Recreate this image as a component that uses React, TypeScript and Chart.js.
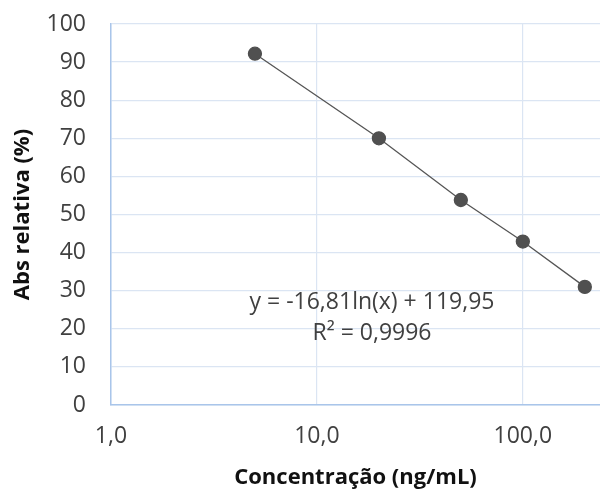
import React, { useEffect, useRef } from "react";
import { Chart, registerables } from "chart.js";

Chart.register(...registerables);

const concentrations = [5, 20, 50, 100, 200];
const absRelativa = [92.2, 70.0, 53.8, 42.9, 31.0];
const xTickValues = [1, 10, 100];
const equationLines = ["y = -16,81ln(x) + 119,95", "R² = 0,9996"];
const xTitle = "Concentração (ng/mL)";
const yTitle = "Abs relativa (%)";

const FONT = "'Open Sans', 'Liberation Sans', sans-serif";

const equationPlugin = {
  id: "equationLabel",
  afterDatasetsDraw(chart: any) {
    const { ctx, chartArea } = chart;
    ctx.save();
    ctx.font = `23px ${FONT}`;
    ctx.fillStyle = "#404040";
    ctx.textAlign = "center";
    ctx.textBaseline = "middle";
    const cx = chartArea.left + 261;
    const cy = chartArea.top + 278;
    ctx.fillText(equationLines[0], cx, cy);
    ctx.fillText(equationLines[1], cx, cy + 31);
    ctx.restore();
  },
};

export default function App() {
  const canvasRef = useRef<HTMLCanvasElement | null>(null);

  useEffect(() => {
    if (!canvasRef.current) return;
    const chart = new Chart(canvasRef.current, {
      type: "scatter",
      data: {
        datasets: [
          {
            data: concentrations.map((x, i) => ({ x, y: absRelativa[i] })),
            showLine: true,
            borderColor: "#555555",
            borderWidth: 1.3,
            backgroundColor: "#505050",
            pointBackgroundColor: "#505050",
            pointBorderColor: "#505050",
            pointRadius: 6.5,
            pointHoverRadius: 6.5,
          },
        ],
      },
      options: {
        responsive: false,
        animation: false,
        devicePixelRatio: 1,
        layout: { autoPadding: false, padding: { left: 0, right: 0, top: 24, bottom: 0 } },
        plugins: {
          legend: { display: false },
          tooltip: { enabled: false },
        },
        scales: {
          x: {
            type: "logarithmic",
            min: 1,
            max: 237,
            afterBuildTicks: (scale: any) => {
              scale.ticks = xTickValues.map((v) => ({ value: v }));
            },
            afterFit: (scale: any) => {
              scale.height = 85;
              scale.paddingLeft = 0;
              scale.paddingRight = 0;
            },
            ticks: {
              autoSkip: false,
              maxRotation: 0,
              padding: 18,
              color: "#404040",
              font: { family: FONT, size: 23 },
              callback: (v: any) => Number(v).toFixed(1).replace(".", ","),
            },
            grid: { color: "#dbe5f3", lineWidth: 1.2, drawTicks: false },
            border: { color: "#a9c5ea", width: 1.5 },
            title: {
              display: true,
              text: xTitle,
              color: "#111111",
              font: { family: FONT, size: 22, weight: "bold", lineHeight: 1 },
              padding: { top: 0, bottom: 1 },
            },
          },
          y: {
            min: 0,
            max: 100,
            afterFit: (scale: any) => {
              scale.width = 111;
              scale.paddingTop = 0;
              scale.paddingBottom = 0;
            },
            ticks: {
              stepSize: 10,
              padding: 25,
              color: "#404040",
              font: { family: FONT, size: 23 },
            },
            grid: { color: "#dbe5f3", lineWidth: 1.2, drawTicks: false },
            border: { color: "#a9c5ea", width: 1.5 },
            title: {
              display: true,
              text: yTitle,
              color: "#111111",
              font: { family: FONT, size: 22, weight: "bold", lineHeight: 1 },
              padding: { top: 12, bottom: 0 },
            },
          },
        },
      },
      plugins: [equationPlugin],
    });
    return () => chart.destroy();
  }, []);

  return (
    <div style={{ position: "absolute", left: 0, top: 0, width: 600, height: 490, background: "#fff" }}>
      <canvas ref={canvasRef} width={600} height={490} style={{ display: "block" }} />
    </div>
  );
}
